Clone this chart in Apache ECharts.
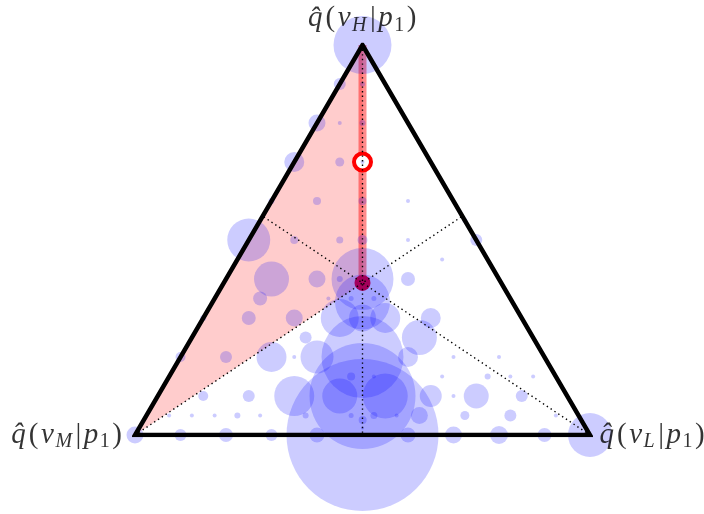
<!DOCTYPE html>
<html>
<head>
<meta charset="utf-8">
<script src="https://cdn.jsdelivr.net/npm/echarts@6/dist/echarts.min.js"></script>
<style>
html, body { margin: 0; padding: 0; background: #fff; }
#chart { width: 704px; height: 514px; }
</style>
</head>
<body>
<div id="chart"></div>
<script>
// simplex lattice, 20 steps per side: ptH = 20*q(vH), ptL = 20*q(vL)
const N = 20
const ptH = [
  20,
  18, 18,
  16, 16, 16,
  14, 14, 14,
  12, 12, 12, 12,
  11,
  10, 10, 10, 10, 10, 10,
  9,
  8, 8, 8, 8, 8,
  7, 7, 7, 7,
  6, 6, 6, 6, 6, 6, 6,
  6.82,
  5, 5,
  4, 4, 4, 4, 4, 4, 4, 4, 4,
  3, 3, 3, 3, 3, 3,
  2, 2, 2, 2, 2, 2, 2, 2, 2, 2,
  1, 1, 1, 1, 1, 1, 1, 1, 1, 1, 1, 1, 1,
  0.77, 0.36,
  0, 0, 0, 0, 0, 0, 0, 0, 0, 0, 0
]
const ptL = [
  0,
  0, 1,
  0, 1, 2,
  0, 2, 3,
  0, 2, 4, 6,
  9,
  0, 2, 4, 5, 7, 10,
  9,
  2, 4, 5, 6, 8,
  2, 5, 6, 7,
  0, 2, 4, 6, 7, 8, 10,
  6.59,
  5, 10,
  0, 2, 4, 5, 6, 8, 10, 12, 14,
  8, 9, 12, 14, 15, 16,
  2, 4, 6, 8, 9, 10, 12, 13, 14, 16,
  1, 2, 3, 4, 5, 7, 9, 10, 11, 12, 14, 16, 18,
  9.62, 9.82,
  0, 2, 4, 6, 8, 10, 12, 14, 16, 18, 20
]
const ptSize = [
  58,
  12, 5,
  17, 4, 6,
  20, 9, 4,
  6, 8, 8, 4,
  5,
  43, 8, 7, 10, 4, 12,
  4,
  35, 17, 6, 62, 14,
  14, 4, 5, 5,
  6, 14, 17, 38, 27, 30, 20,
  55,
  12, 35,
  10, 12, 30, 4, 33, 82, 20, 4, 4,
  8, 4, 4, 6, 4, 4,
  10, 12, 40, 35, 106, 45, 22, 4, 25, 12,
  4, 4, 4, 6, 4, 6, 5, 7, 4, 17, 9, 12, 4,
  8, 3,
  17, 12, 14, 12, 15, 152, 15, 17, 18, 14, 44
]

// estimate and reference point (q(vH), q(vL))
const estH = 0.39, estL = 0.305
const ringH = 0.7, ringL = 0.15

const vertexNames = ['H', 'L', 'M']

// ternary -> cartesian (M at left, L at right, H on top)
const toXY = (h, l) => [l + h / 2, h]

const vH = toXY(1, 0)
const vL = toXY(0, 1)
const vM = toXY(0, 0)
const est = toXY(estH, estL)
const estM = 1 - estH - estL
const footH = toXY(0, estL / (estL + estM))
const footM = toXY(estH / (estH + estL), estL / (estH + estL))
const footL = toXY(estH / (estH + estM), 0)

const points = ptH.map((h, i) => [...toXY(h / N, ptL[i] / N), ptSize[i]])

const chart = echarts.init(document.getElementById('chart'))

const serif = 'Liberation Serif'
const rich = {
  i: { fontFamily: serif, fontStyle: 'italic', fontSize: 29, color: '#000', lineHeight: 34, padding: [0, 1.5, 0, 1] },
  n: { fontFamily: serif, fontSize: 29, color: '#000', lineHeight: 34, padding: [0, 1.5, 0, 1.5] },
  s: { fontFamily: serif, fontStyle: 'italic', fontSize: 20, color: '#000', lineHeight: 20, verticalAlign: 'bottom', padding: [0, 2, 0, 0] },
  d: { fontFamily: serif, fontSize: 20, color: '#000', lineHeight: 20, verticalAlign: 'bottom', padding: [0, 1, 0, 0] }
}
const labelText = v => '{i|q\u0302}{n|(}{i|v}{s|' + v + '}{n||}{i|p}{d|1}{n|)}'

const dotted = (a, b) => ({
  type: 'line',
  data: [a, b],
  symbol: 'none',
  silent: true,
  z: 5,
  lineStyle: { color: '#000', width: 1.4, type: [1.4, 3.2] }
})

const option = {
  animation: false,
  grid: { left: 135, top: 45, width: 455, height: 390 },
  xAxis: { type: 'value', min: 0, max: 1, show: false },
  yAxis: { type: 'value', min: 0, max: 1, show: false },
  series: [
    {
      // region between the H vertex, the M vertex and the estimate
      type: 'custom',
      silent: true,
      z: 1,
      data: [[0, 0]],
      renderItem: (params, api) => ({
        type: 'polygon',
        shape: { points: [vH, vM, est].map(p => api.coord(p)) },
        style: { fill: 'rgba(255,0,0,0.2)' }
      })
    },
    {
      type: 'line',
      data: [vH, est],
      symbol: 'none',
      silent: true,
      z: 2,
      lineStyle: { color: 'rgba(255,0,0,0.45)', width: 8, cap: 'butt' }
    },
    {
      type: 'scatter',
      data: [toXY(ringH, ringL)],
      symbolSize: 17,
      silent: true,
      z: 2,
      itemStyle: { color: '#fff', borderColor: '#ff0000', borderWidth: 4, opacity: 1 }
    },
    {
      type: 'scatter',
      data: [est],
      symbolSize: 16,
      silent: true,
      z: 2,
      itemStyle: { color: '#ff0000', opacity: 1 }
    },
    {
      type: 'scatter',
      data: points,
      symbolSize: v => v[2],
      clip: false,
      silent: true,
      z: 3,
      itemStyle: { color: 'rgba(0,0,255,0.2)', opacity: 1 }
    },
    dotted(vH, footH),
    dotted(vM, footM),
    dotted(vL, footL),
    {
      type: 'line',
      data: [vM, vL, vH, vM, vL],
      symbol: 'none',
      silent: true,
      z: 6,
      lineStyle: { color: '#000', width: 4.5, join: 'miter', miterLimit: 10 }
    },
    {
      type: 'scatter',
      symbolSize: 1,
      silent: true,
      z: 7,
      itemStyle: { color: 'rgba(0,0,0,0)' },
      label: { show: true, rich: rich, formatter: p => labelText(p.name) },
      data: [
        { name: vertexNames[0], value: vH, label: { position: 'top', distance: 9 } },
        { name: vertexNames[1], value: vL, label: { position: 'right', distance: 8 } },
        { name: vertexNames[2], value: vM, label: { position: 'left', distance: 11 } }
      ]
    }
  ]
}

chart.setOption(option)
</script>
</body>
</html>
